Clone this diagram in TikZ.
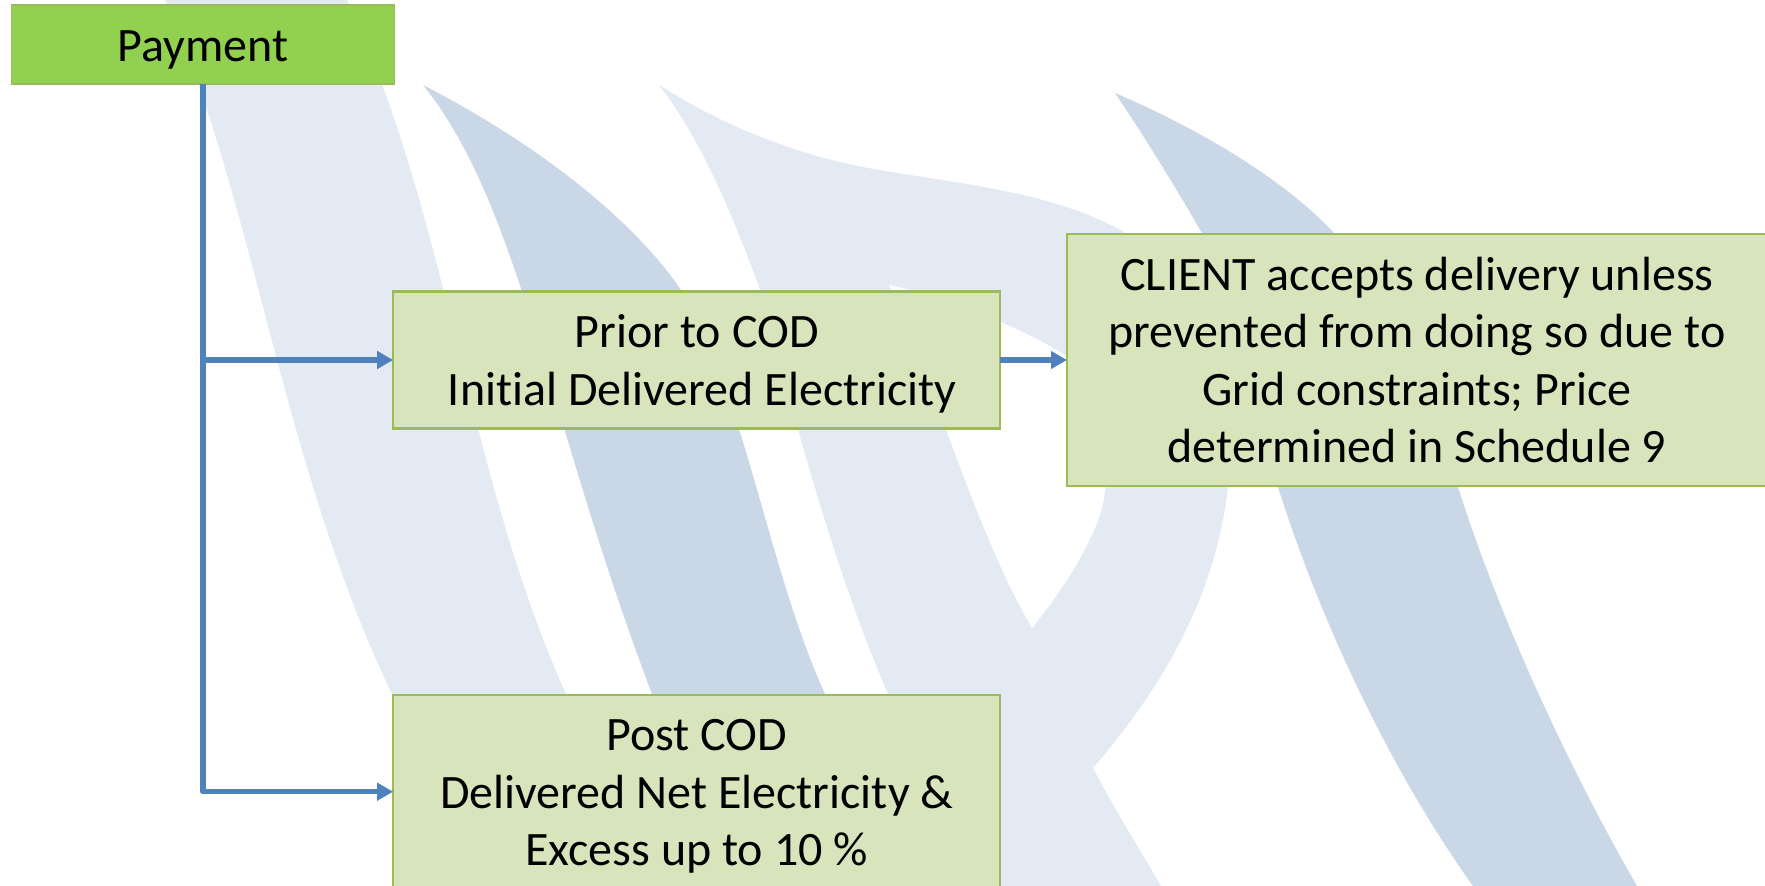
\documentclass[tikz,border=0pt]{standalone}
\usepackage{fontspec}
\setmainfont[Ligatures={NoCommon}]{Carlito}
\usetikzlibrary{arrows.meta}
\definecolor{wmlight}{HTML}{E4EAF3}
\definecolor{wmdark}{HTML}{C9D7E6}
\definecolor{boxfill}{HTML}{D8E4BC}
\definecolor{boxline}{HTML}{9BBB59}
\definecolor{headfill}{HTML}{92D050}
\definecolor{link}{HTML}{4F81BD}
\newcommand{\lnstrut}{\rule[-12pt]{0pt}{57pt}}
\tikzset{
  x=1pt,y=-1pt,
  lightshape/.style={fill=wmlight},
  darkshape/.style={fill=wmdark},
  txt/.style={inner sep=0pt,outer sep=0pt,align=center,font=\fontsize{48}{57.5}\selectfont,text=black},
  headbox/.style={txt,draw=boxline,line width=1.8pt,fill=headfill},
  subbox/.style={txt,draw=boxline,line width=2.4pt,fill=boxfill},
  linkline/.style={draw=link,line width=5.5pt,line join=round,-{Triangle[length=16pt,width=17pt]}}
}
\begin{document}
\begin{tikzpicture}
\useasboundingbox (0,0) rectangle (1765,886);
\fill[white] (0,0) rectangle (1765,886);
\begin{scope}
\clip (0,0) rectangle (1765,886);
% left stripe
\fill[lightshape] (165,0) .. controls (255,200) and (280,460) .. (392,694) -- (430,780) -- (600,780) -- (566,694)
  .. controls (465,470) and (450,220) .. (347,0) -- cycle;
% second, dark stripe
\fill[darkshape] (423,85) .. controls (520,205) and (548,420) .. (652,694) -- (700,800) -- (880,800) -- (825,694)
  .. controls (800,640) and (780,570) .. (760,500)
  .. controls (740,430) and (715,345) .. (681,290)
  .. controls (630,215) and (530,140) .. (423,85) -- cycle;
% large light form with arc
\fill[lightshape] (659,85) .. controls (730,130) and (800,155) .. (868,168)
  .. controls (950,183) and (1050,190) .. (1124,232)
  -- (1228,487) .. controls (1215,600) and (1160,690) .. (1093,768)
  .. controls (1115,810) and (1140,850) .. (1161,886)
  -- (920,886) -- (920,770) -- (888,694)
  .. controls (830,560) and (790,400) .. (761,292)
  .. controls (745,250) and (710,150) .. (659,85) -- cycle;
% white counter inside the light form
\fill[white] (889,285) .. controls (935,385) and (975,530) .. (1032,628)
  .. controls (1075,575) and (1105,520) .. (1105,487)
  .. controls (1110,430) and (1095,385) .. (1067,357)
  .. controls (1045,340) and (960,300) .. (889,285) -- cycle;
% right dark stripe
\fill[darkshape] (1115,93) .. controls (1150,145) and (1180,195) .. (1202,233)
  -- (1278,487) .. controls (1320,620) and (1390,770) .. (1473,886)
  -- (1637,886) .. controls (1570,770) and (1500,620) .. (1458,487)
  -- (1334,233) .. controls (1280,175) and (1190,125) .. (1115,93) -- cycle;
\end{scope}
\node[headbox,minimum width=383pt,minimum height=79pt] (pay) at (203,44.7) {\lnstrut Payment};
\node[subbox,minimum width=607pt,minimum height=137pt] (prior) at (696.7,360) {\lnstrut Prior to COD\\\lnstrut\hspace{11pt}Initial Delivered Electricity};
\node[subbox,minimum width=700pt,minimum height=252pt] (client) at (1417,360) {\lnstrut CLIENT accepts delivery unless\\\lnstrut prevented from doing so due to\\\lnstrut Grid constraints; Price\\\lnstrut determined in Schedule 9};
\node[subbox,minimum width=607pt,minimum height=194pt] (post) at (696.7,791.7) {\lnstrut Post COD\\\lnstrut Delivered Net Electricity \&\\\lnstrut Excess up to 10 \%};
\draw[linkline] (pay.south) |- (prior.west);
\draw[linkline] (pay.south) |- (post.west);
\draw[linkline] (prior.east) -- (client.west);
\end{tikzpicture}
\end{document}
